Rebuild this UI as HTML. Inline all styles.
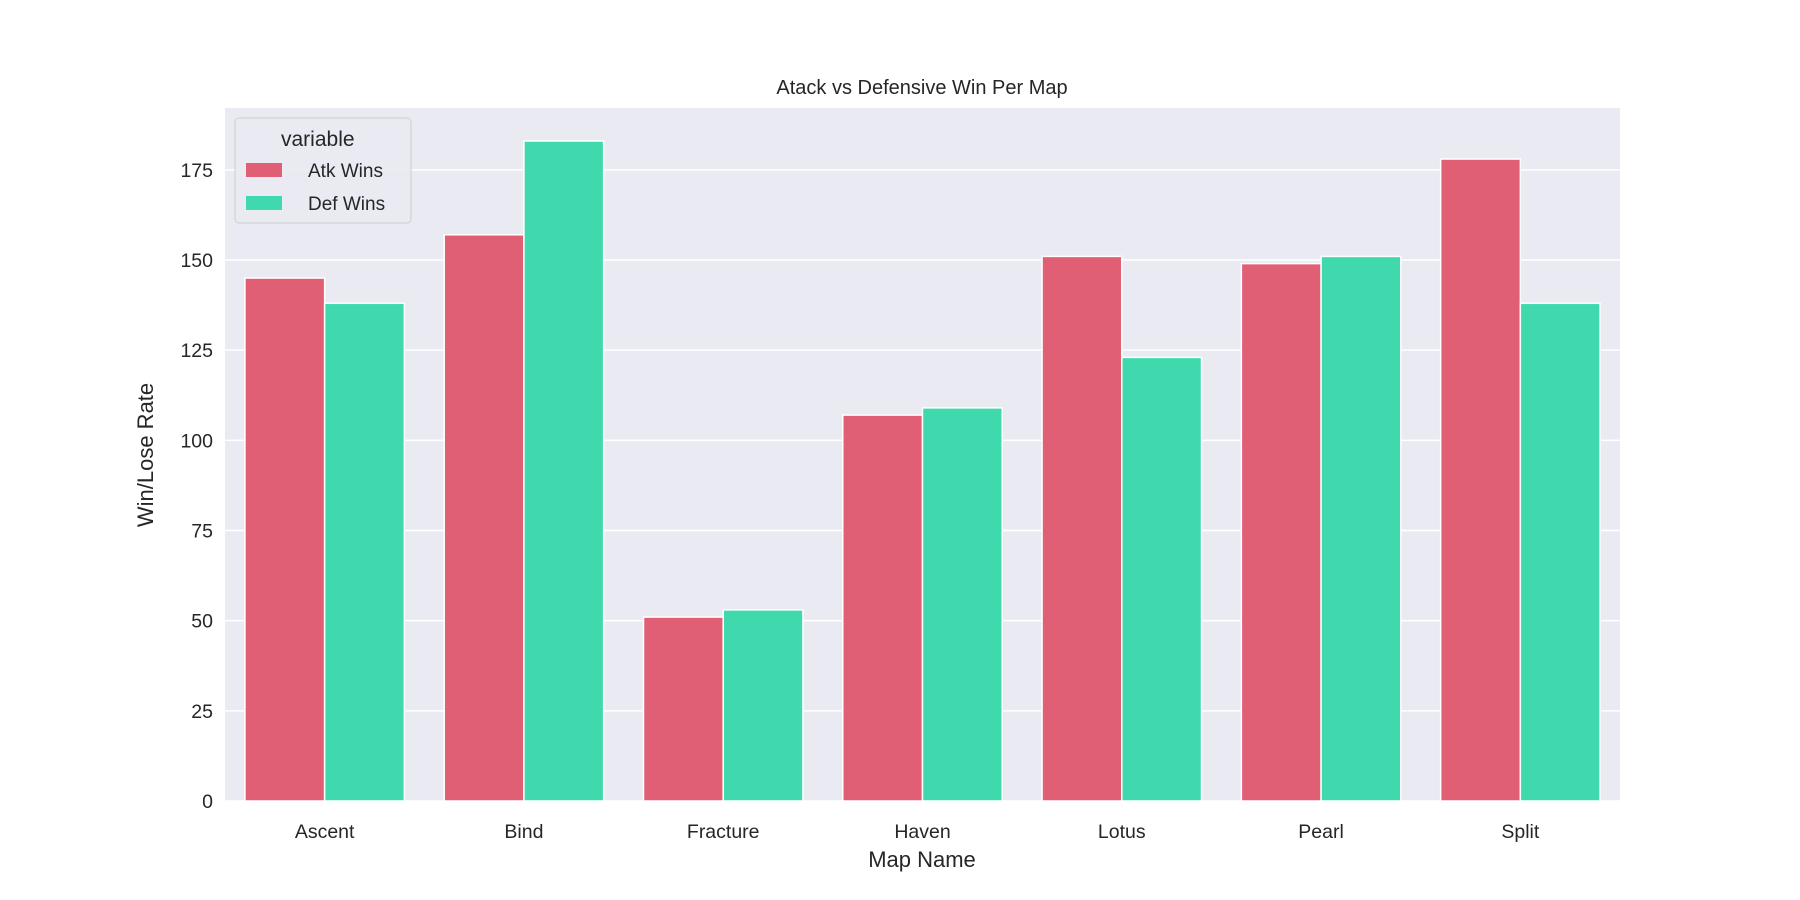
<!DOCTYPE html>
<html><head><meta charset="utf-8"><style>body{margin:0;background:#fff}svg{display:block;font-family:"Liberation Sans","DejaVu Sans",sans-serif}</style></head>
<body>
<svg id="chart" width="1800" height="900">
<rect x="0" y="0" width="1800" height="900" fill="#fff"/>
<rect x="225" y="108" width="1395" height="693" fill="#eaeaf2"/>
<g id="grid"></g><g id="bars"></g><g id="ticks"></g>
<text x="922" y="94" text-anchor="middle" font-size="20" fill="#262626">Atack vs Defensive Win Per Map</text>
<text x="922" y="867" text-anchor="middle" font-size="22" fill="#262626">Map Name</text>
<text transform="translate(153,455) rotate(-90)" text-anchor="middle" font-size="22" fill="#262626">Win/Lose Rate</text>
<g>
<rect x="235" y="118" width="176" height="105" rx="4" fill="#eaeaf2" stroke="#cccccc" opacity="0.9"/>
<text x="281" y="146" font-size="21" fill="#262626">variable</text>
<rect x="246" y="163" width="36" height="14" fill="#e05f75"/>
<text x="308" y="177" font-size="19" fill="#262626">Atk Wins</text>
<rect x="246" y="196" width="36" height="14" fill="#40d9ad"/>
<text x="308" y="210" font-size="19" fill="#262626">Def Wins</text>
</g>
</svg>
<script>
const categories=["Ascent","Bind","Fracture","Haven","Lotus","Pearl","Split"];
const atkWins=[145,157,51,107,151,149,178];
const defWins=[138,183,53,109,123,151,138];
const yTicks=[0,25,50,75,100,125,150,175];
const NS="http://www.w3.org/2000/svg";
const L=225,R=1620,T=108,B=801;
const ymax=Math.max(...atkWins,...defWins)*1.05;
const y=v=>B-(v/ymax)*(B-T);
const x=i=>L+(i+0.5)/categories.length*(R-L);
const band=(R-L)/categories.length;
function mk(tag,attrs,parent){const e=document.createElementNS(NS,tag);for(const k in attrs)e.setAttribute(k,attrs[k]);document.getElementById(parent).appendChild(e);return e;}
yTicks.forEach(t=>{
 const l=mk('line',{x1:L,x2:R,y1:y(t),y2:y(t),stroke:'#fff','stroke-width':1.5},'grid');
 
 
 const tx=mk('text',{x:L-12,y:y(t)+7,'text-anchor':'end','font-size':19.5,fill:'#262626'},'ticks');
 tx.textContent=t;
 
 
});
const series=[[atkWins,'#e05f75','atk'],[defWins,'#40d9ad','def']];
categories.forEach((c,i)=>{
 series.forEach(([vals,col,nm],s)=>{
  const w=band*0.4;
  const bx=x(i)-band*0.4+s*w;
  const r=mk('rect',{x:bx,y:y(vals[i]),width:w,height:B-y(vals[i]),fill:col,stroke:'#fff','stroke-width':1.5},'bars');
  
  
 });
 const tx=mk('text',{x:x(i),y:B+37,'text-anchor':'middle','font-size':19.5,fill:'#262626'},'ticks');
 tx.textContent=c;
 
 
});
</script>
</body></html>
